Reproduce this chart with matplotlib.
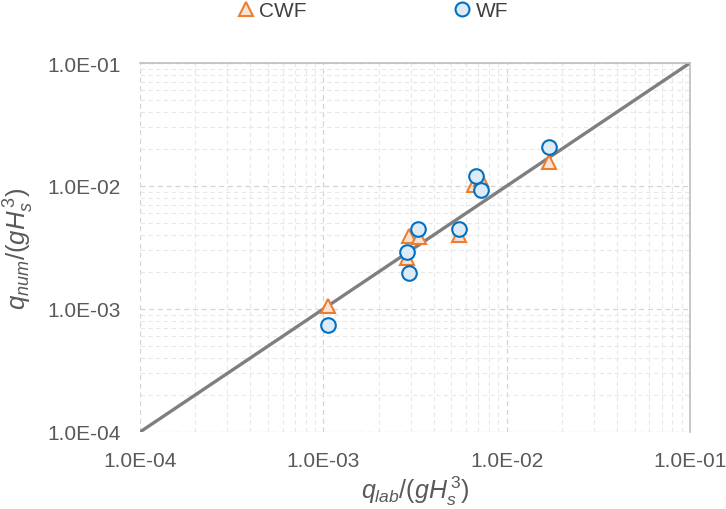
import matplotlib
matplotlib.use("Agg")
import matplotlib.pyplot as plt
from matplotlib.ticker import FuncFormatter, LogLocator, NullFormatter
from matplotlib.lines import Line2D

plt.rcParams['font.family'] = ['Liberation Sans', 'DejaVu Sans']
plt.rcParams['mathtext.fontset'] = 'custom'
plt.rcParams['mathtext.it'] = 'Liberation Sans:italic'
plt.rcParams['mathtext.rm'] = 'Liberation Sans'

# Data
cwf_lab = [1.06e-3, 2.85e-3, 2.93e-3, 3.33e-3, 5.51e-3, 6.67e-3, 7.28e-3, 1.71e-2]
cwf_num = [1.06e-3, 2.62e-3, 3.95e-3, 3.88e-3, 3.97e-3, 1.01e-2, 1.15e-2, 1.57e-2]
wf_lab = [1.06e-3, 2.93e-3, 2.85e-3, 3.30e-3, 5.51e-3, 6.79e-3, 7.25e-3, 1.71e-2]
wf_num = [7.36e-4, 1.98e-3, 2.89e-3, 4.51e-3, 4.51e-3, 1.21e-2, 9.33e-3, 2.07e-2]
line_vals = [1e-4, 1e-1]
labels = ["CWF", "WF"]

fig = plt.figure(figsize=(7.26, 5.10), dpi=100)
ax = fig.add_axes([140/726, 77/510, 550/726, 369/510])
ax.set_xscale('log')
ax.set_yscale('log')
ax.set_xlim(1e-4, 1e-1)
ax.set_ylim(1e-4, 1e-1)

ax.plot(line_vals, line_vals, color='#7f7f7f', lw=2.4, zorder=2, solid_capstyle='butt')
ax.plot(cwf_lab, cwf_num, linestyle='none', marker='^', markersize=10.5,
        markerfacecolor='#fbe3d3', markeredgecolor='#ed7d31', markeredgewidth=1.5, zorder=3)
ax.plot(wf_lab, wf_num, linestyle='none', marker='o', markersize=10.5,
        markerfacecolor='#dcebf7', markeredgecolor='#0070c0', markeredgewidth=1.5, zorder=4)

for a in (ax.xaxis, ax.yaxis):
    a.set_major_locator(LogLocator(base=10, numticks=10))
    a.set_minor_locator(LogLocator(base=10, subs=range(2, 10), numticks=10))
    a.set_minor_formatter(NullFormatter())
    a.set_major_formatter(FuncFormatter(lambda v, p: "%.1E" % v))

ax.grid(which='major', color='#d4d4d4', linestyle=(0, (4, 3)), lw=0.9, zorder=0)
ax.grid(which='minor', color='#e8e8e8', linestyle=(0, (4, 3)), lw=0.8, zorder=0)
ax.tick_params(which='both', length=0, labelsize=15, colors='#595959')
ax.tick_params(axis='y', pad=14)
ax.tick_params(axis='x', pad=14)

for s in ('top', 'right'):
    ax.spines[s].set_color('#bfbfbf')
    ax.spines[s].set_linewidth(1.2)
for s in ('left', 'bottom'):
    ax.spines[s].set_visible(False)

ax.set_xlabel(r'$q_{lab}/(gH_s^{\,3})$', fontsize=18, color='#595959', labelpad=2)
ax.set_ylabel(r'$q_{num}/(gH_s^{\,3})$', fontsize=18.5, color='#595959', labelpad=8)

handles = [
    Line2D([], [], linestyle='none', marker='^', markersize=10,
           markerfacecolor='#fbe3d3', markeredgecolor='#ed7d31', markeredgewidth=1.5),
    Line2D([], [], linestyle='none', marker='o', markersize=10,
           markerfacecolor='#dcebf7', markeredgecolor='#0070c0', markeredgewidth=1.5),
]
leg = fig.legend(handles, labels, loc='center', bbox_to_anchor=(0.514, 0.977), ncol=2,
                 frameon=False, fontsize=15, columnspacing=7.1, handlelength=0.7,
                 handletextpad=0.3)
for t in leg.get_texts():
    t.set_color('#404040')

fig.savefig('out.png', dpi=100)
